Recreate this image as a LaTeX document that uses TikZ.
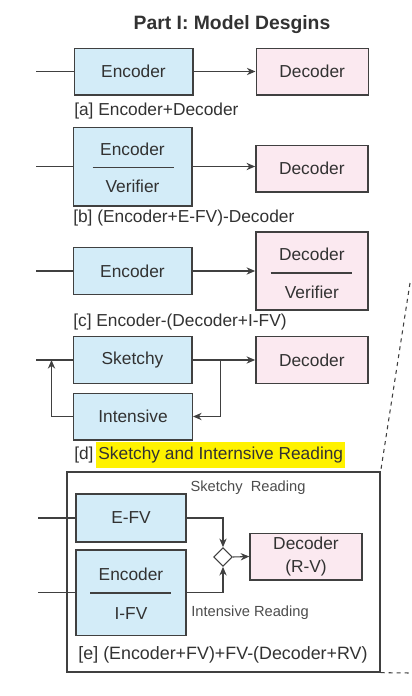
\documentclass[tikz,border=0pt]{standalone}
\usepackage{fontspec}
\setmainfont{Liberation Sans}
\usetikzlibrary{shapes.geometric,arrows.meta}
\definecolor{encfill}{RGB}{211,236,248}
\definecolor{decfill}{RGB}{251,233,240}
\definecolor{linegray}{RGB}{64,64,64}
\definecolor{textgray}{RGB}{50,50,50}
\begin{document}
\begin{tikzpicture}[>={Stealth[length=6.5pt,width=5.5pt]},x=0.75pt,y=-0.75pt,font=\fontsize{13}{16}\selectfont,text=textgray]

    % Define node styles
    \tikzstyle{enc_block} = [draw=linegray, fill=encfill, line width=1pt, minimum width=89pt, minimum height=35pt, inner sep=0pt, text centered]
    \tikzstyle{enc_split_block} = [enc_block, minimum height=59pt]
    \tikzstyle{dec_block} = [draw=linegray, fill=decfill, line width=1pt, minimum width=84pt, minimum height=35pt, inner sep=0pt, text centered]
    \tikzstyle{dec_split_block} = [dec_block, minimum height=58.5pt]
    \tikzstyle{fv_block} = [enc_block, minimum width=82.5pt, minimum height=36pt]
    \tikzstyle{fv_split_block} = [fv_block, minimum height=64pt]
    \tikzstyle{merge_block} = [draw=linegray, fill=white, diamond, line width=0.8pt, minimum size=14pt, inner sep=0pt]
    \tikzstyle{caption} = [anchor=west, inner sep=0pt]
    \tikzstyle{note} = [font=\fontsize{11}{13}\selectfont, text=black!70]
    \tikzstyle{flow} = [->, linegray, line width=0.8pt]
    \tikzstyle{plain} = [linegray, line width=0.8pt]

    \useasboundingbox (0,0) rectangle (411,696);

    % Title
    \node [font=\bfseries\fontsize{14.5}{17}\selectfont] (title) at (232,25) {Part I: Model Desgins};

    % [a]
    \node [enc_block] (enc_a) at (133.5,71.5) {Encoder};
    \node [dec_block, right of=enc_a, node distance=134pt] (dec_a) {Decoder};
    \node [caption] (cap_a) at (74,111) {[a] Encoder+Decoder};
    \draw [plain] (enc_a.west) -- ++(-38,0);
    \draw [flow] (enc_a) -- (dec_a);

    % [b]
    \node [enc_split_block] (enc_b) at (132.5,166.5) {};
    \node (enc_b_top) at ([yshift=13pt]enc_b.center) {Encoder};
    \node (enc_b_bot) at ([yshift=-15pt]enc_b.center) {Verifier};
    \draw [plain] ([xshift=-30pt,yshift=-1pt]enc_b.center) -- ++(81,0);
    \node [dec_block, right of=enc_b, node distance=134.5pt, yshift=-1.5pt] (dec_b) {Decoder};
    \node [caption] (cap_b) at (73,218) {[b] (Encoder+E-FV)-Decoder};
    \draw [plain] (enc_b.west) -- ++(-37,0);
    \draw [flow] (enc_b.east) -- (enc_b.east -| dec_b.west);

    % [c]
    \node [enc_block] (enc_c) at (132.5,271) {Encoder};
    \node [dec_split_block, right of=enc_c, node distance=134.5pt] (dec_c) {};
    \node (dec_c_top) at ([yshift=12.75pt]dec_c.center) {Decoder};
    \node (dec_c_bot) at ([yshift=-15.75pt]dec_c.center) {Verifier};
    \draw [plain] ([xshift=-31pt,yshift=-1.5pt]dec_c.center) -- ++(81,0);
    \node [caption] (cap_c) at (73,322) {[c] Encoder-(Decoder+I-FV)};
    \draw [plain] (enc_c.west) -- ++(-37,0);
    \draw [flow] (enc_c) -- (dec_c);

    % [d]
    \node [enc_block] (sketchy) at (132.5,360) {Sketchy};
    \node [enc_block] (intensive) at (133,416.5) {Intensive};
    \node [dec_block, right of=sketchy, node distance=134.5pt] (dec_d) {Decoder};
    \node [caption] (cap_d) at (74,455) {[d]\,{\setlength\fboxsep{1.5pt}\colorbox{yellow}{\strut Sketchy and Internsive Reading}}};
    \draw [plain] (sketchy.west) -- ++(-37,0);
    \draw [flow] (sketchy) -- (dec_d);
    \draw [flow] ([xshift=21pt]sketchy.east) |- (intensive.east);
    \draw [flow] (intensive.west) -| ([xshift=-15.75pt]sketchy.west);

    % [e]
    \node [draw=linegray, line width=1pt, minimum width=234.75pt, minimum height=150pt, inner sep=0pt] (frame_e) at (223.5,572) {};
    \node [fv_block] (efv) at (131,518) {E-FV};
    \node [fv_split_block] (ifv) at (131,592.5) {};
    \node (ifv_top) at ([yshift=13.9pt]ifv.center) {Encoder};
    \node (ifv_bot) at ([yshift=-16pt]ifv.center) {I-FV};
    \draw [linegray, line width=1.3pt] ([xshift=-30.4pt,yshift=-0.4pt]ifv.center) -- ++(81,0);
    \node [merge_block] (merge) at (223,557) {};
    \node [dec_block, align=center, font=\fontsize{13}{17}\selectfont] (dec_e) at (306,556.5) {Decoder\\(R-V)};
    \node [note] (sketchy_note) at (248,488) {Sketchy\ \ Reading};
    \node [note] (intensive_note) at (250,613) {Intensive Reading};
    \node [font=\fontsize{13.4}{16}\selectfont] (cap_e) at (223,655) {[e] (Encoder+FV)+FV-(Decoder+RV)};
    \draw [plain] (efv.west) -- ++(-37,0);
    \draw [plain] (ifv.west) -- ++(-37,0);
    \draw [flow] (efv.east) -| (merge.north);
    \draw [flow] (ifv.east) -| (merge.south);
    \draw [flow] (merge.east) -- (dec_e.west);

    % Zoom lines
    \coordinate (zoom_top) at (410,283);
    \coordinate (zoom_out) at (411,673);
    \draw [plain, dashed] (zoom_top) -- (frame_e.north east);
    \draw [plain, dashed] (frame_e.south east) -- (zoom_out);

\end{tikzpicture}
\end{document}
